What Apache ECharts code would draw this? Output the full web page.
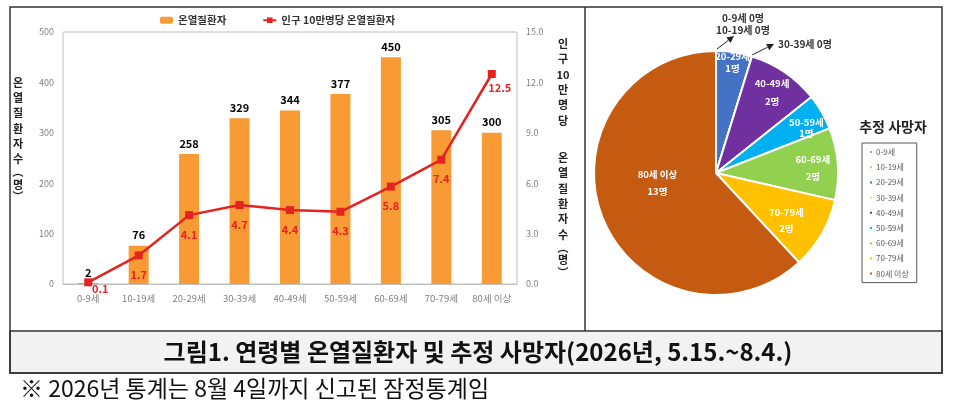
<!DOCTYPE html>
<html><head><meta charset="utf-8">
<script src="https://cdn.jsdelivr.net/npm/echarts@6/dist/echarts.min.js"></script>
<style>html,body{margin:0;padding:0;background:#fff;}#c{width:957px;height:417px;}</style>
</head><body><div id="c"></div>
<script>
const categories = ['0-9세','10-19세','20-29세','30-39세','40-49세','50-59세','60-69세','70-79세','80세 이상'];
const patients = [2, 76, 258, 329, 344, 377, 450, 305, 300];
const ratePer100k = [0.1, 1.7, 4.1, 4.7, 4.4, 4.3, 5.8, 7.4, 12.5];
const deathAges = ['0-9세','10-19세','20-29세','30-39세','40-49세','50-59세','60-69세','70-79세','80세 이상'];
const deaths = [0, 0, 1, 0, 2, 1, 2, 2, 13];
const leftAxisMax = 500, leftAxisStep = 100;
const rightAxisMax = 15, rightAxisStep = 3;

const FONT = '"Noto Sans CJK KR", "Noto Sans", sans-serif';
const pieColors = ['#5B9BD5','#ED7D31','#4472C4','#FFC000','#7030A0','#00B0F0','#92D050','#FFC000','#C55A11'];
const legendColors = ['#8FAADC','#F4B183','#4472C4','#FFD966','#7030A0','#00B0F0','#92D050','#FFC000','#C55A11'];
const pieLabelOffset = [null,null,[7,-47],null,[20,-28],[35,-13],[33,0],[15,15],[1,-13]];
const pieLabelLH = [0,0,12,0,18,11,17,16,17];
const lineLabelOffset = {0:[12,-13], 8:[8,-6]};

const pieData = deathAges.map((n,i)=>({
  name:n, value:deaths[i],
  itemStyle:{color:pieColors[i]},
  label: deaths[i] === 0 ? {show:false} : {show:true, offset:pieLabelOffset[i], lineHeight:pieLabelLH[i]}
}));

function arrow(x1,y1,x2,y2){
  const a = Math.atan2(y2-y1,x2-x1), L=7, W=3.5;
  const bx = x2 - L*Math.cos(a), by = y2 - L*Math.sin(a);
  const px = -Math.sin(a)*W, py = Math.cos(a)*W;
  return [
    {type:'line', shape:{x1,y1,x2:bx,y2:by}, style:{stroke:'#222', lineWidth:1}},
    {type:'polygon', shape:{points:[[x2,y2],[bx+px,by+py],[bx-px,by-py]]}, style:{fill:'#222'}}
  ];
}
function vtext(x,y,str,lh){
  return {type:'text', x:x, y:y, style:{text:str, font:'bold 11px '+FONT, fill:'#222', align:'center', verticalAlign:'top', lineHeight:lh,
    rich:{p:{font:'bold 11px '+FONT, fill:'#222', lineHeight:10, align:'center'}}}};
}

const chart = echarts.init(document.getElementById('c'), null, {renderer:'canvas'});
chart.setOption({
  animation:false,
  textStyle:{fontFamily:FONT},
  legend:[
    {data:['온열질환자','인구 10만명당 온열질환자'], left:155, top:10, itemGap:36, itemWidth:13, itemHeight:7,
     textStyle:{fontFamily:FONT, fontSize:10.5, fontWeight:'bold', color:'#333'}},
    {data:deathAges.map((n,i)=>({name:n, itemStyle:{color:legendColors[i]}})), orient:'vertical', left:862, top:143,
     itemWidth:4, itemHeight:4, itemGap:7.2, icon:'rect',
     borderColor:'#595959', borderWidth:1, padding:[5,8,5,6],
     textStyle:{fontFamily:FONT, fontSize:8, color:'#595959', padding:[0,0,0,-2]}}
  ],
  grid:{left:63, right:440, top:32, bottom:133, show:true, borderColor:'#BFBFBF', borderWidth:1},
  xAxis:{type:'category', data:categories, axisLine:{lineStyle:{color:'#BFBFBF'}}, axisTick:{show:false},
    axisLabel:{color:'#7F7F7F', fontSize:9.5, margin:10, interval:0}},
  yAxis:[
    {type:'value', min:0, max:leftAxisMax, interval:leftAxisStep, splitLine:{show:false}, axisLine:{show:false}, axisTick:{show:false},
     axisLabel:{color:'#7F7F7F', fontSize:9, margin:9}},
    {type:'value', min:0, max:rightAxisMax, interval:rightAxisStep, splitLine:{show:false}, axisLine:{show:false}, axisTick:{show:false},
     axisLabel:{color:'#7F7F7F', fontSize:9, margin:9, formatter:v=>v.toFixed(1)}}
  ],
  series:[
    {name:'온열질환자', type:'bar', data:patients, barWidth:20, itemStyle:{color:'#F99B35'},
     label:{show:true, position:'top', distance:5, color:'#000', fontWeight:'bold', fontSize:11, fontFamily:FONT}},
    {name:'인구 10만명당 온열질환자', type:'line', yAxisIndex:1,
     data:ratePer100k.map((v,i)=>({value:v, label:lineLabelOffset[i]?{offset:lineLabelOffset[i]}:{}})),
     symbol:'rect', symbolSize:8, lineStyle:{color:'#E42320', width:2.5}, itemStyle:{color:'#E42320'},
     label:{show:true, position:'bottom', distance:10, color:'#E42320', fontWeight:'bold', fontSize:11, fontFamily:FONT, formatter:p=>p.value.toFixed(1)}},
    {name:'추정 사망자', type:'pie', center:[716,173], radius:122, startAngle:90, clockwise:true,
     avoidLabelOverlap:false, stillShowZeroSum:true, minShowLabelAngle:0,
     itemStyle:{borderColor:'#fff', borderWidth:2},
     label:{position:'inside', color:'#fff', fontWeight:'bold', fontSize:9.5, fontFamily:FONT, formatter:'{b}\n{c}명', overflow:'none'},
     labelLayout:{hideOverlap:false},
     labelLine:{show:false}, emphasis:{disabled:true},
     data:pieData}
  ],
  graphic:[
    {type:'rect', shape:{x:10,y:7,width:932,height:366}, style:{fill:'none', stroke:'#333', lineWidth:1.5}, z:100},
    {type:'rect', shape:{x:10,y:331,width:932,height:42}, style:{fill:'#F2F2F2', stroke:'#333', lineWidth:1.5}, z:99},
    {type:'line', shape:{x1:585,y1:7,x2:585,y2:331}, style:{stroke:'#333', lineWidth:1.5}, z:100},
    {type:'text', x:478, y:352, style:{text:'그림1. 연령별 온열질환자 및 추정 사망자(2026년, 5.15.~8.4.)', font:'bold 24px '+FONT, fill:'#111', align:'center', verticalAlign:'middle'}, z:101},
    {type:'text', x:20, y:388, style:{text:'※ 2026년 통계는 8월 4일까지 신고된 잠정통계임', font:'23px '+FONT, fill:'#111', verticalAlign:'middle'}},
    {type:'text', x:893, y:127, style:{text:'추정 사망자', font:'bold 14px '+FONT, fill:'#222', align:'center', verticalAlign:'middle'}},
    {type:'text', x:743, y:12, style:{text:'0-9세 0명\n10-19세 0명', font:'bold 10px '+FONT, fill:'#333', align:'center', verticalAlign:'top', lineHeight:12}},
    {type:'text', x:778, y:44, style:{text:'30-39세 0명', font:'bold 10px '+FONT, fill:'#333', verticalAlign:'middle'}},
    ...arrow(717,49,734,36),
    ...arrow(752,55,774,44),
    vtext(18,75,'온\n열\n질\n환\n자\n수\n{p|︵}\n명\n{p|︶}',15.3),
    vtext(563,36,'인\n구\n10\n만\n명\n당',15.4),
    vtext(563,150,'온\n열\n질\n환\n자\n수\n{p|︵}\n명\n{p|︶}',15.4)
  ]
});
</script></body></html>
